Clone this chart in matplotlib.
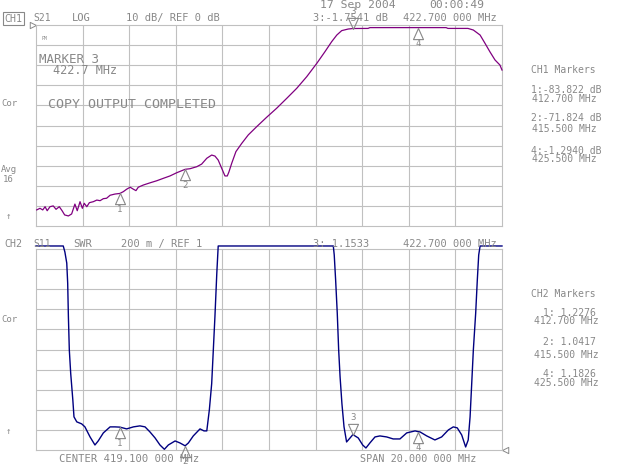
import matplotlib
matplotlib.use("Agg")
import matplotlib.pyplot as plt
from matplotlib.path import Path

# CH1 S21 trace (MHz, dB)
freq_s21 = [409.13, 409.27, 409.39, 409.49, 409.58, 409.70, 409.84, 409.96, 410.10, 410.22,
            410.33, 410.49, 410.63, 410.77, 410.87, 410.99, 411.09, 411.17, 411.28, 411.39,
            411.56, 411.71, 411.85, 411.99, 412.13, 412.28, 412.49, 412.70, 412.85, 412.99,
            413.14, 413.28, 413.39, 413.49, 413.71, 414.00, 414.28, 414.56, 414.85, 415.14,
            415.50, 415.71, 416.00, 416.21, 416.43, 416.64, 416.78, 416.92, 417.07, 417.21,
            417.31, 417.38, 417.50, 417.68, 417.93, 418.21, 418.57, 419.00, 419.43, 419.86,
            420.29, 420.72, 421.15, 421.50, 421.79, 422.01, 422.22, 422.50, 422.70, 423.35,
            423.43, 426.70, 426.78, 427.64, 427.87, 428.16, 428.37, 428.58, 428.80, 429.01,
            429.10]
s21_db = [-92.0, -91.2, -92.0, -90.4, -92.4, -90.4, -90.0, -91.7, -90.4, -92.4,
          -94.5, -95.0, -94.0, -89.1, -92.4, -87.9, -91.2, -88.7, -90.4, -88.4,
          -87.9, -87.1, -87.4, -86.4, -86.2, -84.7, -84.1, -83.8, -82.9, -81.7,
          -80.7, -81.7, -82.4, -80.7, -79.6, -78.5, -77.5, -76.3, -75.1, -73.5,
          -71.8, -71.5, -70.5, -69.2, -66.3, -64.7, -65.2, -67.2, -71.3, -75.1,
          -75.1, -73.1, -68.8, -63.0, -58.9, -54.7, -50.6, -45.9, -41.4, -36.5,
          -31.5, -25.7, -19.1, -13.3, -8.3, -5.0, -2.8, -2.0, -1.75, -1.7,
          -1.3, -1.3, -1.7, -1.7, -2.5, -5.0, -9.1, -13.3, -17.4, -19.9,
          -22.4]

# CH2 S11 trace (MHz, SWR), off-scale part sits just above the top line
freq_s11 = [409.10, 410.27, 410.34, 410.42, 410.46, 410.49, 410.53, 410.59, 410.68, 410.73,
            410.85, 411.06, 411.20, 411.42, 411.63, 411.77, 411.99, 412.28, 412.49, 412.70,
            412.99, 413.28, 413.56, 413.78, 413.99, 414.21, 414.42, 414.61, 414.78, 415.07,
            415.28, 415.50, 415.64, 415.85, 416.14, 416.31, 416.43, 416.54, 416.64, 416.71,
            416.78, 416.86, 416.90, 416.92, 421.86, 421.90, 421.96, 422.03, 422.09, 422.15,
            422.23, 422.32, 422.43, 422.58, 422.70, 422.93, 423.12, 423.26, 423.43, 423.65,
            423.86, 424.15, 424.43, 424.72, 425.01, 425.37, 425.50, 425.58, 425.87, 426.22,
            426.51, 426.80, 427.01, 427.18, 427.37, 427.54, 427.65, 427.73, 427.80, 427.87,
            427.97, 428.04, 428.10, 428.16, 429.10]
s11_swr = [3.03, 3.03, 2.97, 2.86, 2.66, 2.33, 1.995, 1.76, 1.50, 1.33,
           1.28, 1.26, 1.23, 1.13, 1.05, 1.09, 1.17, 1.23, 1.23, 1.2276,
           1.21, 1.23, 1.24, 1.23, 1.18, 1.12, 1.05, 1.007, 1.05, 1.09,
           1.07, 1.0417, 1.07, 1.14, 1.21, 1.19, 1.19, 1.40, 1.66, 1.995,
           2.33, 2.76, 2.94, 3.03, 3.03, 2.94, 2.69, 2.36, 1.995, 1.73,
           1.46, 1.23, 1.08, 1.12, 1.1533, 1.12, 1.05, 1.02, 1.07, 1.13,
           1.14, 1.13, 1.11, 1.11, 1.17, 1.19, 1.1826, 1.18, 1.14, 1.10,
           1.13, 1.20, 1.23, 1.22, 1.15, 1.03, 1.10, 1.33, 1.66, 1.995,
           2.36, 2.69, 2.94, 3.03, 3.03]

marker_ids = [1, 2, 3, 4]
marker_freq = [412.7, 415.5, 422.7, 425.5]
ch1_marker_val = [-83.822, -71.824, -1.7541, -1.294]
ch2_marker_val = [1.2276, 1.0417, 1.1533, 1.1826]
active_marker = 3

center = 419.1
span = 20.0

GRID = "#c0c0c0"
TXT = "#888888"
MONO = "DejaVu Sans Mono"

fig = plt.figure(figsize=(6.4, 4.65), dpi=100)
fig.patch.set_facecolor("white")

W, H = 640.0, 465.0
ax1 = fig.add_axes([36 / W, 1 - 226 / H, 466 / W, 201 / H])
ax2 = fig.add_axes([36 / W, 1 - 450 / H, 466 / W, 201 / H])

up_tri = Path([(0, 0), (-0.45, -1), (0.45, -1), (0, 0)], closed=True)
down_tri = Path([(0, 0), (-0.45, 1), (0.45, 1), (0, 0)], closed=True)

for ax, lo, hi in [(ax1, -100, 0), (ax2, 1, 3)]:
    ax.set_xlim(center - span / 2, center + span / 2)
    ax.set_ylim(lo, hi)
    for i in range(1, 10):
        ax.axvline(center - span / 2 + i * span / 10, color=GRID, lw=0.8, zorder=0)
        ax.axhline(lo + i * (hi - lo) / 10, color=GRID, lw=0.8, zorder=0)
    ax.set_xticks([])
    ax.set_yticks([])
    for s in ax.spines.values():
        s.set_color(GRID)
        s.set_linewidth(0.8)

ax1.plot(freq_s21, s21_db, color="#800080", lw=0.9, clip_on=False, zorder=3)
ax2.plot(freq_s11, s11_swr, color="#000080", lw=1.0, clip_on=False, zorder=3)


def draw_markers(ax, vals):
    for n, f, v in zip(marker_ids, marker_freq, vals):
        if n == active_marker:
            ax.plot(f, v, marker=down_tri, ms=16, mfc="none", mec=TXT, mew=0.8,
                    clip_on=False, zorder=4)
            ax.annotate(str(n), (f, v), xytext=(0, 17), textcoords="offset pixels",
                        ha="center", va="center", fontsize=6.5, color=TXT, family=MONO,
                        annotation_clip=False)
        else:
            ax.plot(f, v, marker=up_tri, ms=16, mfc="none", mec=TXT, mew=0.8,
                    clip_on=False, zorder=4)
            ax.annotate(str(n), (f, v), xytext=(0, -16), textcoords="offset pixels",
                        ha="center", va="center", fontsize=6.5, color=TXT, family=MONO,
                        annotation_clip=False)


draw_markers(ax1, ch1_marker_val)
draw_markers(ax2, ch2_marker_val)

# reference position indicators
ref_right = Path([(0, 0), (-1, 0.5), (-1, -0.5), (0, 0)], closed=True)
ref_left = Path([(0, 0), (1, 0.5), (1, -0.5), (0, 0)], closed=True)
ax1.plot(center - span / 2, 0, marker=ref_right, ms=9, mfc="none", mec=TXT, mew=0.7,
         clip_on=False)
ax2.plot(center + span / 2, 1, marker=ref_left, ms=9, mfc="none", mec=TXT, mew=0.7,
         clip_on=False)


def label(x, y, s, size=7.5, **kw):
    fig.text(x / W, 1 - y / H, s, fontsize=size, color=TXT, family=MONO,
             ha="left", va="center", **kw)


# CH1 header
label(4, 18.5, "CH1", 7.2, bbox=dict(boxstyle="square,pad=0.15", fc="none", ec=TXT, lw=0.8))
label(33, 18, "S21", 7)
label(72, 18, "LOG", 7.5)
label(126, 18, "10 dB/ REF 0 dB", 7.5)
label(313, 18, "3:-1.7541 dB", 7.5)
label(403, 18, "422.700 000 MHz", 7.5)
label(320, 5.5, "17 Sep 2004", 8.2)
label(429, 5.5, "00:00:49", 8.2)

label(42, 38, "PM", 3.5)
label(39, 59, "MARKER 3", 9)
label(53, 70, "422.7 MHz", 8.5)
label(48, 104, "COPY OUTPUT COMPLETED", 9.5)

label(1, 104, "Cor", 6.5)
label(1, 170, "Avg", 6.5)
label(3, 179.5, "16", 6.5)
label(6, 216.5, "\u2191", 6.5)

label(531, 70, "CH1 Markers", 7)
label(531, 90, "1:-83.822 dB", 7)
label(532, 99, "412.700 MHz", 7)
label(531, 118, "2:-71.824 dB", 7)
label(532, 129, "415.500 MHz", 7)
label(531, 150.5, "4:-1.2940 dB", 7)
label(532, 158.5, "425.500 MHz", 7)

# CH2 header
label(4, 244, "CH2", 7.2)
label(33, 244, "S11", 7)
label(73, 244, "SWR", 7.5)
label(121, 244, "200 m / REF 1", 7.5)
label(313, 244, "3: 1.1533", 7.5)
label(403, 244, "422.700 000 MHz", 7.5)

label(1, 319.5, "Cor", 6.5)
label(6, 431, "\u2191", 6.5)

label(59, 458.5, "CENTER 419.100 000 MHz", 7.6)
label(360, 458.5, "SPAN 20.000 000 MHz", 7.3)

label(531, 294, "CH2 Markers", 7)
label(543, 313, "1: 1.2276", 7)
label(534, 321, "412.700 MHz", 7)
label(543, 342, "2: 1.0417", 7)
label(534, 354.5, "415.500 MHz", 7)
label(543, 374, "4: 1.1826", 7)
label(534, 382.5, "425.500 MHz", 7)

fig.savefig("out.png", dpi=100, facecolor="white")
